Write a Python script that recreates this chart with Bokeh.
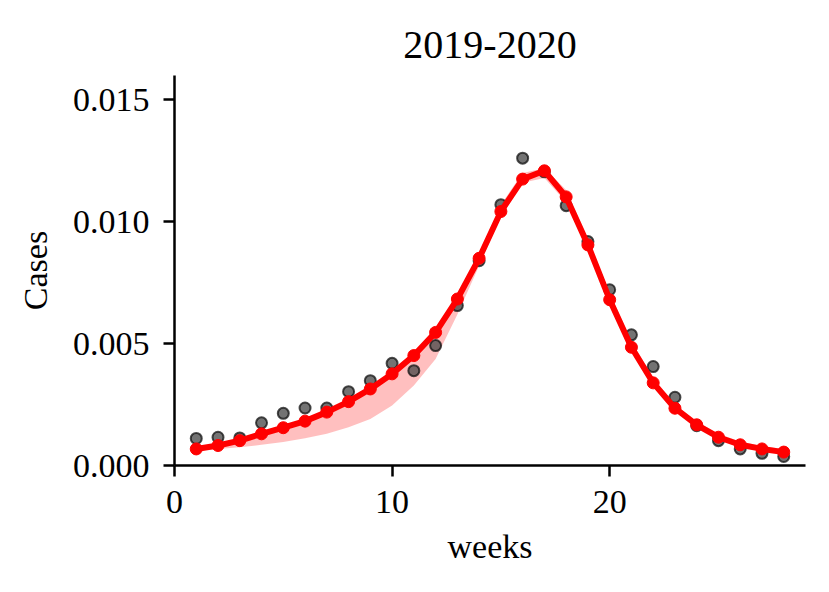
from bokeh.plotting import figure
from bokeh.models import Range1d, FixedTicker, NumeralTickFormatter, ColumnDataSource
from bokeh.embed import file_html
from bokeh.resources import INLINE

# ---- data ----
title_text = "2019-2020"
weeks = list(range(1, 29))
observed = [0.00111, 0.00116, 0.00113, 0.00175, 0.00214, 0.00236, 0.00236, 0.00303,
            0.00348, 0.00419, 0.00389, 0.00492, 0.00656, 0.00840, 0.01070, 0.01261,
            0.01205, 0.01066, 0.00919, 0.00721, 0.00536, 0.00406, 0.00280, 0.00163,
            0.00102, 0.00068, 0.00050, 0.00037]
fitted = [0.00068, 0.00082, 0.00102, 0.00130, 0.00155, 0.00182, 0.00219, 0.00262,
          0.00314, 0.00376, 0.00451, 0.00546, 0.00683, 0.00850, 0.01042, 0.01175,
          0.01209, 0.01102, 0.00905, 0.00680, 0.00485, 0.00339, 0.00235, 0.00167,
          0.00116, 0.00085, 0.00068, 0.00055]
band_lower = [0.00061, 0.00068, 0.00075, 0.00085, 0.00096, 0.00112, 0.00130, 0.00157,
              0.00191, 0.00246, 0.00328, 0.00437, 0.00620, 0.00820, 0.01020, 0.01160,
              0.01180, 0.01080, 0.00890, 0.00670, 0.00480, 0.00335, 0.00232, 0.00165,
              0.00115, 0.00085, 0.00068, 0.00055]
band_upper = [0.00075, 0.00090, 0.00110, 0.00138, 0.00163, 0.00190, 0.00227, 0.00270,
              0.00322, 0.00384, 0.00460, 0.00556, 0.00695, 0.00870, 0.01070, 0.01200,
              0.01220, 0.01130, 0.00930, 0.00710, 0.00510, 0.00360, 0.00250, 0.00180,
              0.00130, 0.00098, 0.00080, 0.00068]
x_ticks = [0, 10, 20]
y_ticks = [0.0, 0.005, 0.010, 0.015]
x_label = "weeks"
y_label = "Cases"

FONT = "Liberation Serif"

src = ColumnDataSource(dict(w=weeks, obs=observed, fit=fitted, lo=band_lower, hi=band_upper))

p = figure(width=813, height=576, output_backend="svg", toolbar_location=None,
           x_range=Range1d(0, 29), y_range=Range1d(0, 0.016),
           min_border_left=174, min_border_right=8, min_border_top=75, min_border_bottom=111)

p.title.text = title_text
p.title.align = "center"
p.title.text_font = FONT
p.title.text_font_size = "40px"
p.title.text_font_style = "normal"
p.title.text_color = "black"
p.title.standoff = 36

p.outline_line_color = None
p.grid.visible = False
p.background_fill_color = "white"
p.border_fill_color = "white"

p.varea(x="w", y1="lo", y2="hi", source=src, fill_color="#ff0000", fill_alpha=0.25)
p.scatter(x="w", y="obs", source=src, size=11, fill_color="#444444", fill_alpha=0.75,
          line_color="#111111", line_alpha=0.75, line_width=2)
p.line(x="w", y="fit", source=src, line_color="#ff0000", line_width=6)
p.scatter(x="w", y="fit", source=src, size=12, fill_color="#ff0000", line_color="#ff0000")

for ax in (p.xaxis[0], p.yaxis[0]):
    ax.axis_line_width = 2.5
    ax.axis_line_color = "black"
    ax.major_tick_line_width = 2.5
    ax.major_tick_line_color = "black"
    ax.major_tick_out = 11
    ax.major_tick_in = 0
    ax.minor_tick_line_color = None
    ax.major_label_text_font = FONT
    ax.major_label_text_font_size = "34px"
    ax.major_label_text_color = "black"
    ax.axis_label_text_font = FONT
    ax.axis_label_text_font_size = "34px"
    ax.axis_label_text_font_style = "normal"
    ax.axis_label_text_color = "black"

p.xaxis.ticker = FixedTicker(ticks=x_ticks)
p.yaxis.ticker = FixedTicker(ticks=y_ticks)
p.yaxis.formatter = NumeralTickFormatter(format="0.000")
p.xaxis.axis_label = x_label
p.yaxis.axis_label = y_label
p.xaxis.major_label_standoff = 14
p.yaxis.major_label_standoff = 14
p.xaxis.axis_label_standoff = 12
p.yaxis.axis_label_standoff = 16

open("out.html", "w").write(file_html(p, INLINE))
